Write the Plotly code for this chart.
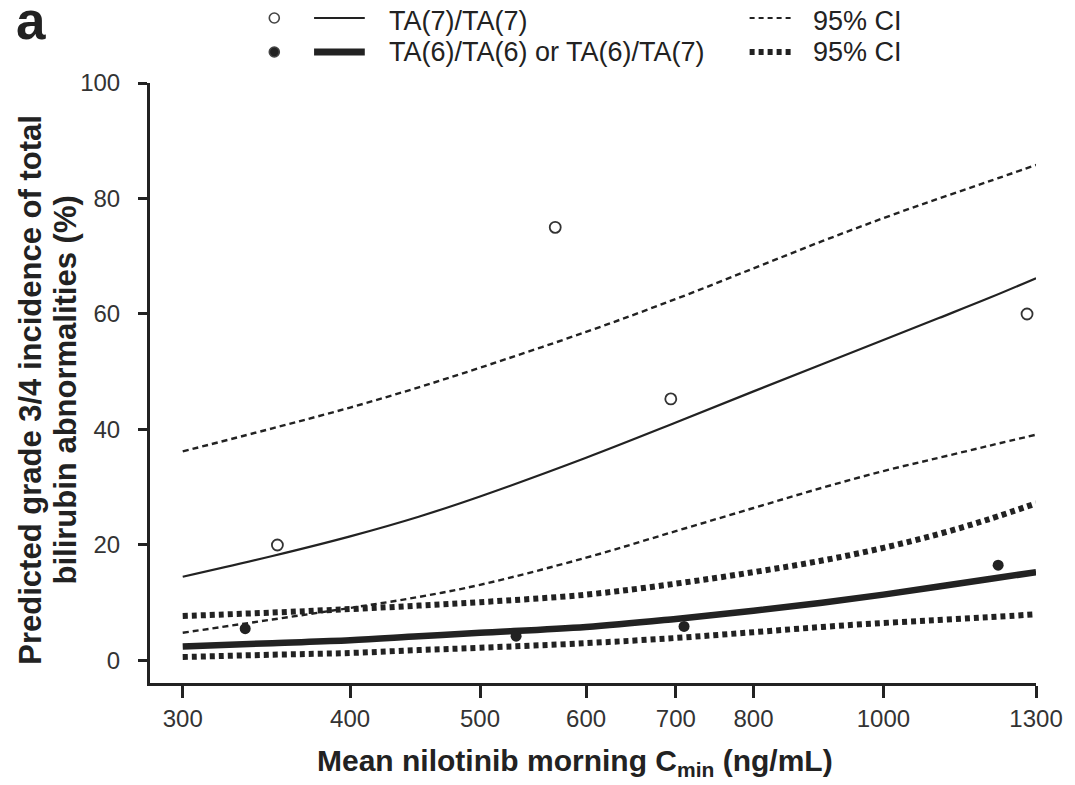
import plotly.graph_objects as go

# ---- data ----
x_grid = [300, 350, 400, 450, 500, 600, 700, 800, 900, 1000, 1100, 1200, 1300]
ta7_fit = [14.5, 18.1, 21.5, 24.9, 28.4, 35.1, 41.2, 46.6, 51.3, 55.5, 59.3, 62.8, 66.2]
ta7_upper = [36.2, 40.2, 43.8, 47.3, 50.7, 56.9, 62.6, 67.9, 72.6, 76.6, 80.0, 83.0, 85.8]
ta7_lower = [4.8, 7.1, 9.1, 11.0, 13.1, 17.8, 22.4, 26.4, 29.9, 32.8, 35.1, 37.2, 39.1]
ta6_fit = [2.4, 3.0, 3.5, 4.2, 4.8, 5.8, 7.2, 8.6, 10.0, 11.4, 12.8, 14.1, 15.3]
ta6_upper = [7.7, 8.3, 8.9, 9.5, 10.1, 11.4, 13.3, 15.3, 17.3, 19.5, 21.9, 24.5, 27.2]
ta6_lower = [0.6, 1.0, 1.3, 1.8, 2.2, 3.0, 3.9, 4.9, 5.8, 6.5, 7.0, 7.5, 8.0]

ta7_obs_x = [353, 569, 694, 1280]
ta7_obs_y = [20.0, 75.0, 45.3, 60.0]
ta6_obs_x = [334, 532, 710, 1218]
ta6_obs_y = [5.5, 4.2, 5.9, 16.5]

x_ticks = [300, 400, 500, 600, 700, 800, 1000, 1300]
y_ticks = [0, 20, 40, 60, 80, 100]

legend_rows = ["TA(7)/TA(7)", "TA(6)/TA(6) or TA(6)/TA(7)"]
ci_label = "95% CI"
y_title_lines = ["Predicted grade 3/4 incidence of total", "bilirubin abnormalities (%)"]

INK = "#222222"
FONT = "Liberation Sans, Arial, Helvetica, sans-serif"

# page has an 8px body margin: the figure sits at (8, 8) in the window
OFF = 8
W, H = 1075 - OFF, 785 - OFF
ML, MT = 150 - OFF, 83 - OFF
MR = W - (1041 - OFF)
MB = H - (683 - OFF)
PW, PH = W - ML - MR, H - MT - MB


def px(xp):  # page x pixel -> paper
    return (xp - OFF - ML) / PW


def py(yp):  # page y pixel -> paper
    return (H - MB - (yp - OFF)) / PH


fig = go.Figure()


def curve(y, width, dash):
    fig.add_trace(go.Scatter(
        x=x_grid, y=y, mode="lines",
        line=dict(color=INK, width=width, dash=dash, shape="spline", smoothing=1.0),
        showlegend=False, hoverinfo="skip"))


curve(ta7_upper, 2.4, "6px,4px")
curve(ta7_lower, 2.4, "6px,4px")
curve(ta7_fit, 2.2, "solid")
curve(ta6_upper, 6, "5px,4px")
curve(ta6_lower, 6, "5px,4px")
curve(ta6_fit, 6.5, "solid")

fig.add_trace(go.Scatter(
    x=ta7_obs_x, y=ta7_obs_y, mode="markers",
    marker=dict(symbol="circle-open", size=11, color="#333333", line=dict(width=1.8)),
    showlegend=False))
fig.add_trace(go.Scatter(
    x=ta6_obs_x, y=ta6_obs_y, mode="markers",
    marker=dict(symbol="circle", size=11, color=INK),
    showlegend=False))

# ---- hand-built legend above the plot ----
shapes = []
annotations = []
row_y = [18, 52]
text_y = [21, 52]
for i, label in enumerate(legend_rows):
    yy = py(row_y[i])
    ty = py(text_y[i])
    shapes.append(dict(type="circle", xref="paper", yref="paper",
                       xsizemode="pixel", ysizemode="pixel",
                       xanchor=px(275), yanchor=yy, x0=-5, x1=5, y0=-5, y1=5,
                       line=dict(color="#444444", width=1.6),
                       fillcolor="white" if i == 0 else INK))
    shapes.append(dict(type="line", xref="paper", yref="paper",
                       x0=px(315), x1=px(366), y0=yy, y1=yy,
                       line=dict(color=INK, width=2.2 if i == 0 else 7)))
    annotations.append(dict(text=label, xref="paper", yref="paper",
                            x=px(388), y=ty, xanchor="left", yanchor="middle",
                            showarrow=False, font=dict(family=FONT, size=27, color=INK)))
    shapes.append(dict(type="line", xref="paper", yref="paper",
                       x0=px(753), x1=px(797), y0=yy, y1=yy,
                       line=dict(color=INK, width=2.2 if i == 0 else 6, dash="5px,4px")))
    annotations.append(dict(text=ci_label, xref="paper", yref="paper",
                            x=px(815), y=ty, xanchor="left", yanchor="middle",
                            showarrow=False, font=dict(family=FONT, size=27, color=INK)))

# panel letter
annotations.append(dict(text="<b>a</b>", xref="paper", yref="paper",
                        x=px(13), y=py(20), xanchor="left", yanchor="middle",
                        showarrow=False, font=dict(family=FONT, size=53, color=INK)))
# axis titles
annotations.append(dict(text="<b>Mean nilotinib morning C<sub>min</sub> (ng/mL)</b>",
                        xref="paper", yref="paper", x=px(577), y=py(762),
                        xanchor="center", yanchor="middle", showarrow=False,
                        font=dict(family=FONT, size=30, color=INK)))
for line_text, cx in zip(y_title_lines, [29, 65]):
    annotations.append(dict(text="<b>" + line_text + "</b>",
                            xref="paper", yref="paper", x=px(cx), y=py(390),
                            xanchor="center", yanchor="middle", textangle=-90,
                            showarrow=False,
                            font=dict(family=FONT, size=31, color=INK)))

fig.update_layout(
    width=W, height=H,
    margin=dict(l=ML, r=MR, t=MT, b=MB, pad=0),
    paper_bgcolor="white", plot_bgcolor="white",
    shapes=shapes, annotations=annotations,
    font=dict(family=FONT, color=INK),
    xaxis=dict(type="log", range=[2.4527, 3.1139],
               tickvals=x_ticks, ticktext=[str(v) for v in x_ticks],
               showgrid=False, zeroline=False,
               showline=True, linecolor=INK, linewidth=3,
               ticks="outside", ticklen=12, tickwidth=3, tickcolor=INK,
               ticklabelstandoff=0,
               tickfont=dict(family=FONT, size=24, color="#333333")),
    yaxis=dict(range=[-3.9, 100], tickvals=y_ticks,
               showgrid=False, zeroline=False,
               showline=True, linecolor=INK, linewidth=3,
               ticks="outside", ticklen=9, tickwidth=3, tickcolor=INK,
               ticklabelstandoff=13,
               tickfont=dict(family=FONT, size=24, color="#333333")),
)

fig.write_html("out.html")
